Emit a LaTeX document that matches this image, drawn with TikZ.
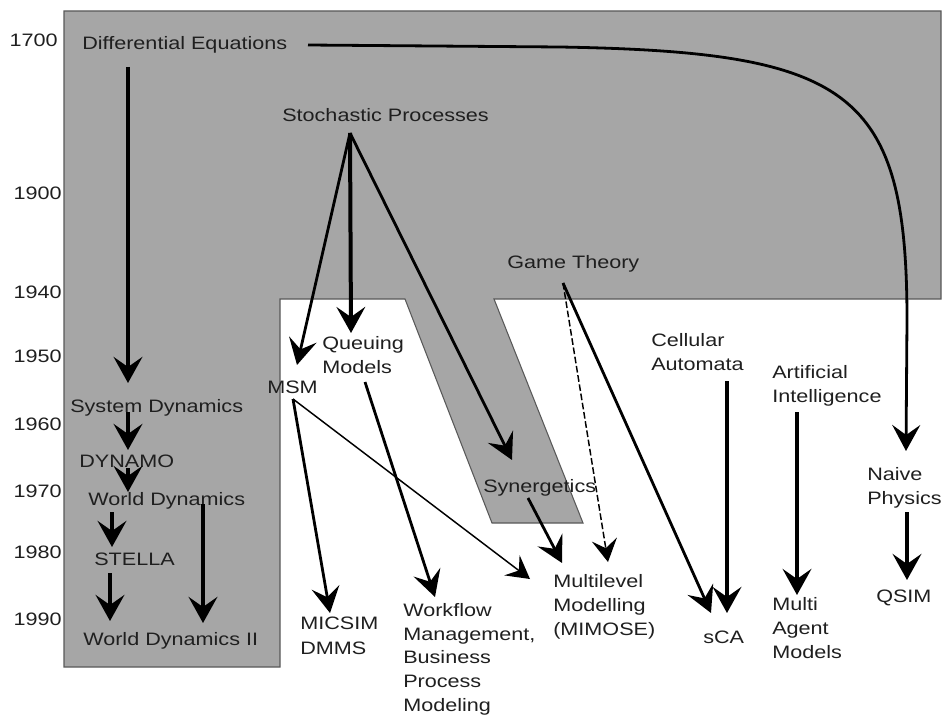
\documentclass[tikz,border=0pt]{standalone}
\usepackage{fontspec}
\setmainfont[FakeStretch=1.2]{Liberation Sans}
\usetikzlibrary{arrows.meta}
\begin{document}
\begin{tikzpicture}[x=0.75pt,y=-0.75pt,
  lbl/.style={inner sep=0pt, text=black!88, font=\fontsize{13.5}{18.2}\selectfont, align=left},
  yr/.style={lbl, anchor=base east},
  one/.style={lbl, anchor=base west},
  multi/.style={lbl, anchor=north west},
  bigarr/.style={line width=3pt, -{Stealth[length=19.5pt, width=21.5pt, inset=7.5pt]}},
  medarr/.style={line width=2.1pt, -{Stealth[length=19.5pt, width=21pt, inset=7.5pt]}},
  thinarr/.style={line width=1.1pt, -{Stealth[length=17pt, width=19pt, inset=6.5pt]}},
  dasharr/.style={line width=1.1pt, dash pattern=on 5pt off 2pt, -{Stealth[length=17pt, width=19pt, inset=6.5pt]}},
  region/.style={fill=black!35, draw=black!65, line width=0.8pt}
]
\useasboundingbox (0,0) rectangle (946,717);
% grey region
\path[region] (64,11) -- (941,11) -- (941,299) -- (494,299) -- (583,523) -- (492,523)
  -- (405,299) -- (280,299) -- (280,667) -- (64,667) -- cycle;

% year labels
\node[yr] (y1700) at (58,47) {1700};
\node[yr] (y1900) at (62,199) {1900};
\node[yr] (y1940) at (62,298) {1940};
\node[yr] (y1950) at (62,362) {1950};
\node[yr] (y1960) at (62,430) {1960};
\node[yr] (y1970) at (62,497) {1970};
\node[yr] (y1980) at (62,558) {1980};
\node[yr] (y1990) at (62,625) {1990};

% labels
\node[one] (de) at (82,50) {Differential Equations};
\node[one] (sp) at (282,122) {Stochastic Processes};
\node[one] (gt) at (507,268) {Game Theory};
\node[one] (msm) at (267,393) {MSM};
\node[one] (sd) at (70,412) {System Dynamics};
\node[one] (dyn) at (79,467) {DYNAMO};
\node[one] (wd) at (88,505) {World Dynamics};
\node[one] (st) at (94,565) {STELLA};
\node[one] (wd2) at (83,645) {World Dynamics II};
\node[one] (syn) at (483,492) {Synergetics};
\node[one] (sca) at (703,643) {sCA};
\node[one] (qsim) at (876,602) {QSIM};
\node[multi] (qm) at (322,336) {Queuing\\Models};
\node[multi] (ca) at (651,333) {Cellular\\Automata};
\node[multi] (ai) at (772,365) {Artificial\\Intelligence};
\node[multi] (np) at (867,467) {Naive\\Physics};
\node[multi] (mam) at (772,597) {Multi\\Agent\\Models};
\node[multi] (mlm) at (553,574) {Multilevel\\Modelling\\(MIMOSE)};
\node[multi] (mic) at (300,617) {MICSIM\\DMMS};
\node[multi, font=\fontsize{13.5}{17.8}\selectfont] (wf) at (403,603) {Workflow\\Management,\\Business\\Process\\Modeling};

% connector end points
\coordinate (de-r) at (308,45);
\coordinate (de-d) at (128,67);
\coordinate (sd-in) at (128,383);
\coordinate (np-in) at (906,451);
\coordinate (sp-o) at (350,133);
\coordinate (msm-in) at (297,365);
\coordinate (qm-in) at (351,333);
\coordinate (syn-in) at (512,460);
\coordinate (gt-o) at (563,283);
\coordinate (sca-in1) at (711,613);
\coordinate (sca-in2) at (727,613);
\coordinate (mlm-in1) at (608,562);
\coordinate (mlm-in2) at (562,563);
\coordinate (mlm-in3) at (530,579);
\coordinate (ca-o) at (727,381);
\coordinate (ai-o) at (797,412);
\coordinate (mam-in) at (797,595);
\coordinate (np-o) at (907,512);
\coordinate (qsim-in) at (907,580);
\coordinate (msm-o) at (293,399);
\coordinate (mic-in) at (330,613);
\coordinate (qm-o) at (365,382);
\coordinate (wf-in) at (435,597);
\coordinate (syn-o) at (528,498);
\coordinate (sd-o) at (128,412);
\coordinate (dyn-in) at (128,450);
\coordinate (dyn-o) at (128,468);
\coordinate (wd-in) at (128,492);
\coordinate (wd-o1) at (112,512);
\coordinate (st-in) at (112,547);
\coordinate (wd-o2) at (203,504);
\coordinate (wd2-in2) at (203,623);
\coordinate (st-o) at (110,573);
\coordinate (wd2-in1) at (110,621);

% connectors
\draw[medarr] (de-r) -- (560,47) .. controls (850,52) and (907,90) .. (907,320) -- (np-in);
\draw[bigarr] (de-d) -- (sd-in);
\draw[medarr] (sp-o) -- (msm-in);
\draw[bigarr] (sp-o) -- (qm-in);
\draw[medarr] (sp-o) -- (syn-in);
\draw[medarr] (gt-o) -- (sca-in1);
\draw[dasharr] (gt-o) -- (mlm-in1);
\draw[bigarr] (ca-o) -- (sca-in2);
\draw[bigarr] (ai-o) -- (mam-in);
\draw[bigarr] (np-o) -- (qsim-in);
\draw[medarr] (syn-o) -- (mlm-in2);
\draw[thinarr] (msm-o) -- (mlm-in3);
\draw[medarr] (msm-o) -- (mic-in);
\draw[medarr] (qm-o) -- (wf-in);
\draw[bigarr] (sd-o) -- (dyn-in);
\draw[bigarr] (dyn-o) -- (wd-in);
\draw[bigarr] (wd-o1) -- (st-in);
\draw[bigarr] (wd-o2) -- (wd2-in2);
\draw[bigarr] (st-o) -- (wd2-in1);
\end{tikzpicture}
\end{document}
